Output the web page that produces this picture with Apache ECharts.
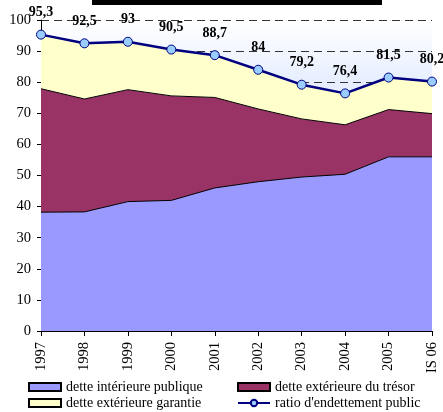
<!DOCTYPE html>
<html>
<head>
<meta charset="utf-8">
<script src="https://cdn.jsdelivr.net/npm/echarts@6/dist/echarts.min.js"></script>
<style>
    html, body { margin: 0; padding: 0; background: #fff; }
    #main { width: 443px; height: 412px; }
</style>
</head>
<body>
<div id="main"></div>
<script>
    var years = ['1997', '1998', '1999', '2000', '2001', '2002', '2003', '2004', '2005', 'IS 06'];
    // dette intérieure publique
    var detteInterieure = [38.2, 38.3, 41.6, 42, 46, 48, 49.5, 50.4, 56, 56];
    // dette extérieure du trésor
    var detteTresor = [39.7, 36.3, 36, 33.6, 29.1, 23.4, 18.7, 15.9, 15.2, 13.9];
    // dette extérieure garantie
    var detteGarantie = [17.4, 17.9, 15.4, 14.9, 13.6, 12.6, 11, 10.1, 10.3, 10.3];
    // ratio d'endettement public
    var ratio = [95.3, 92.5, 93, 90.5, 88.7, 84, 79.2, 76.4, 81.5, 80.2];
    var yTicks = [0, 10, 20, 30, 40, 50, 60, 70, 80, 90, 100];

    var font = 'Liberation Serif';
    var chart = echarts.init(document.getElementById('main'));

    function areaSerie(name, data, color) {
        return {
            name: name,
            type: 'line',
            stack: 'dette',
            data: data,
            symbol: 'none',
            lineStyle: { color: '#000', width: 1 },
            itemStyle: { color: color, borderColor: '#000', borderWidth: 1 },
            areaStyle: { color: color, opacity: 1 },
            z: 2
        };
    }

    var legendText = { fontFamily: font, fontSize: 14, color: '#000', lineHeight: 14 };

    var option = {
        animation: false,
        textStyle: { fontFamily: font },
        grid: {
            left: 41, right: 11, top: 20, bottom: 81,
            show: true,
            borderWidth: 0,
            backgroundColor: {
                type: 'linear', x: 0, y: 0, x2: 0, y2: 1,
                colorStops: [
                    { offset: 0, color: '#ffffff' },
                    { offset: 0.2, color: '#e6eeff' },
                    { offset: 1, color: '#d6e2ff' }
                ]
            }
        },
        graphic: [{
            type: 'rect',
            shape: { x: 92, y: 0, width: 290, height: 5 },
            style: { fill: '#000' }
        }],
        legend: [{
            left: 28, top: 380, height: 32, orient: 'vertical',
            padding: 0,
            itemWidth: 32, itemHeight: 8, itemGap: 2,
            textStyle: legendText,
            data: [
                { name: 'dette intérieure publique', icon: 'rect' },
                { name: 'dette extérieure garantie', icon: 'rect' }
            ]
        }, {
            left: 237, top: 380, height: 32, orient: 'vertical',
            padding: 0,
            itemWidth: 32, itemHeight: 8, itemGap: 2,
            textStyle: legendText,
            data: [
                { name: 'dette extérieure du trésor', icon: 'rect' },
                { name: "ratio d'endettement public" }
            ]
        }],
        xAxis: {
            type: 'category',
            data: years,
            boundaryGap: false,
            axisLine: { lineStyle: { color: '#000', width: 1 } },
            axisTick: { show: true, length: 5, lineStyle: { color: '#000' } },
            axisLabel: { rotate: 90, fontFamily: font, fontSize: 14.5, color: '#000', margin: 11 }
        },
        yAxis: {
            type: 'value',
            min: yTicks[0],
            max: yTicks[yTicks.length - 1],
            interval: 10,
            axisLine: { show: true, lineStyle: { color: '#000', width: 1 } },
            axisTick: { show: true, length: 4, lineStyle: { color: '#000' } },
            axisLabel: { fontFamily: font, fontSize: 14.5, color: '#000', margin: 10 },
            splitLine: { lineStyle: { color: '#333', type: [8, 5], width: 1 } }
        },
        series: [
            areaSerie('dette intérieure publique', detteInterieure, '#9999ff'),
            areaSerie('dette extérieure du trésor', detteTresor, '#993366'),
            areaSerie('dette extérieure garantie', detteGarantie, '#ffffcc'),
            {
                name: "ratio d'endettement public",
                type: 'line',
                data: ratio,
                symbol: 'circle',
                symbolSize: 9,
                lineStyle: { color: '#000080', width: 2.5 },
                itemStyle: { color: '#99ccff', borderColor: '#000080', borderWidth: 1 },
                label: {
                    show: true,
                    position: 'top',
                    distance: 10,
                    fontFamily: font,
                    fontSize: 14,
                    fontWeight: 'bold',
                    color: '#000',
                    formatter: function (p) { return String(p.value).replace('.', ','); }
                },
                z: 5
            }
        ]
    };
    chart.setOption(option);
</script>
</body>
</html>
